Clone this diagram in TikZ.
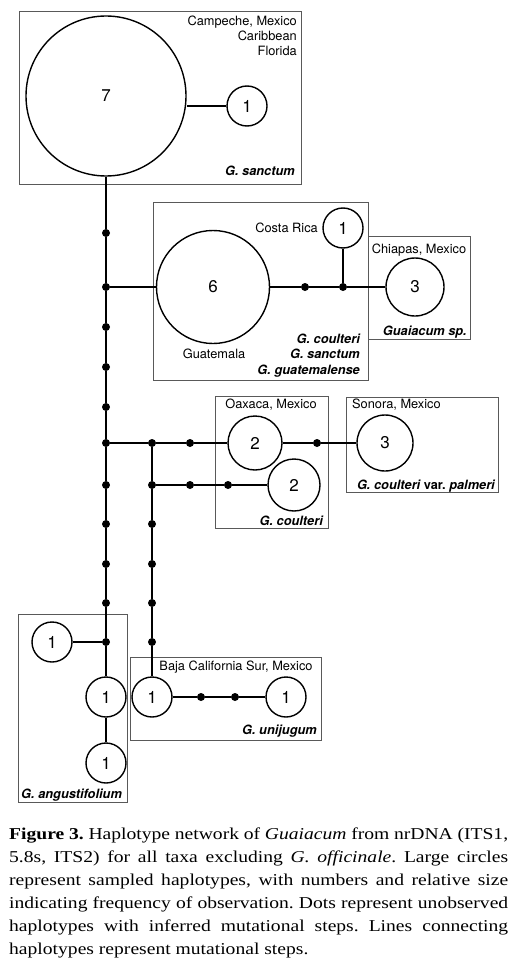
\documentclass[tikz,border=0pt]{standalone}
\usepackage{fontspec}
\setmainfont{Liberation Serif}
\newfontfamily\capfont[FakeStretch=1.18]{Liberation Serif}
\newfontfamily\hv{TeX Gyre Heros}
\frenchspacing
\begin{document}
\begin{tikzpicture}[x=1pt,y=-1pt,
  hap/.style={circle,draw=black,line width=1.4pt,inner sep=0pt,minimum size=#1,font=\hv\fontsize{17}{17}\selectfont},
  mdot/.style={circle,fill=black,inner sep=0pt,minimum size=8pt},
  link/.style={line width=1.7pt,black},
  grp/.style={draw=black!65,line width=0.9pt},
  lbl/.style={font=\hv\fontsize{12.8}{14}\selectfont,inner sep=0pt},
  tax/.style={font=\hv\bfseries\itshape\fontsize{12.8}{14}\selectfont,inner sep=0pt}
]
\useasboundingbox[fill=white] (0,0) rectangle (517,971);

% group boxes
\draw[grp] (19,11) rectangle (301,184);
\draw[grp] (153,202) rectangle (368,380);
\draw[grp] (368,236) rectangle (470,339);
\draw[grp] (215,396) rectangle (328,528);
\draw[grp] (346,397) rectangle (498,492);
\draw[grp] (18,614) rectangle (127,802);
\draw[grp] (130,657) rectangle (321,740);

% haplotypes
\node[hap=160pt] (c7) at (106,96) {7};
\node[hap=40pt] (t1) at (247,106) {1};
\node[hap=113pt] (g6) at (213,287) {6};
\node[hap=40pt] (cr) at (343,228) {1};
\node[hap=58pt] (ch) at (415,287) {3};
\node[hap=54pt] (o1) at (255,443) {2};
\node[hap=52pt] (o2) at (294,485) {2};
\node[hap=56pt] (so) at (385,443) {3};
\node[hap=40pt] (a1) at (52,642) {1};
\node[hap=40pt] (a2) at (106,697) {1};
\node[hap=40pt] (a3) at (106,763) {1};
\node[hap=40pt] (u1) at (152,697) {1};
\node[hap=40pt] (u2) at (286,697) {1};

% median dots, main line
\node[mdot] (m1) at (106,233) {};
\node[mdot] (m2) at (106,287) {};
\node[mdot] (m3) at (106,327) {};
\node[mdot] (m4) at (106,367) {};
\node[mdot] (m5) at (106,407) {};
\node[mdot] (m6) at (106,443) {};
\node[mdot] (m7) at (106,485) {};
\node[mdot] (m8) at (106,524) {};
\node[mdot] (m9) at (106,564) {};
\node[mdot] (m10) at (106,603) {};
\node[mdot] (m11) at (106,642) {};
% second line
\node[mdot] (s1) at (152,443) {};
\node[mdot] (s2) at (152,485) {};
\node[mdot] (s3) at (152,524) {};
\node[mdot] (s4) at (152,564) {};
\node[mdot] (s5) at (152,603) {};
\node[mdot] (s6) at (152,642) {};
% other dots
\node[mdot] (d1) at (190,443) {};
\node[mdot] (d2) at (317,443) {};
\node[mdot] (d3) at (190,485) {};
\node[mdot] (d4) at (228,485) {};
\node[mdot] (d5) at (305,287) {};
\node[mdot] (d6) at (343,287) {};
\node[mdot] (d7) at (201,697) {};
\node[mdot] (d8) at (235,697) {};

% links
\draw[link] (t1.west) -- (c7.east |- t1.west);
\draw[link] (c7) -- (m1) -- (m2) -- (m3) -- (m4) -- (m5) -- (m6) -- (m7) -- (m8) -- (m9) -- (m10) -- (m11) -- (a2) -- (a3);
\draw[link] (m2) -- (g6) -- (d5) -- (d6) -- (ch);
\draw[link] (d6) -- (cr);
\draw[link] (m6) -- (s1) -- (d1) -- (o1) -- (d2) -- (so);
\draw[link] (s1) -- (s2) -- (s3) -- (s4) -- (s5) -- (s6) -- (u1);
\draw[link] (s2) -- (d3) -- (d4) -- (o2);
\draw[link] (m11) -- (a1);
\draw[link] (u1) -- (d7) -- (d8) -- (u2);

% labels
\node[lbl,anchor=base east] (l1) at (297,26) {Campeche, Mexico};
\node[lbl,anchor=base east] (l2) at (297,41) {Caribbean};
\node[lbl,anchor=base east] (l3) at (297,56) {Florida};
\node[tax,anchor=base east] (x1) at (295,175) {G. sanctum};
\node[lbl,anchor=base east] (l4) at (318,232) {Costa Rica};
\node[lbl,anchor=base] (l5) at (419,253) {Chiapas, Mexico};
\node[tax,anchor=base east] (x2) at (467,335) {Guaiacum sp.};
\node[tax,anchor=base east] (x3) at (360,343) {G. coulteri};
\node[tax,anchor=base east] (x4) at (360,358) {G. sanctum};
\node[tax,anchor=base east] (x5) at (360,374) {G. guatemalense};
\node[lbl,anchor=base] (l6) at (214,358) {Guatemala};
\node[lbl,anchor=base] (l7) at (271,408) {Oaxaca, Mexico};
\node[lbl,anchor=base west] (l8) at (352,408) {Sonora, Mexico};
\node[tax,anchor=base east] (x6) at (323,525) {G. coulteri};
\node[tax,anchor=base east] (x7) at (495,489) {G. coulteri \upshape var. \itshape palmeri};
\node[tax,anchor=base west] (x8) at (21,798) {G. angustifolium};
\node[lbl,anchor=base] (l9) at (236,670) {Baja California Sur, Mexico};
\node[tax,anchor=base east] (x9) at (317,734) {G. unijugum};

% caption
\node[anchor=north west,inner sep=0pt,align=left,font=\capfont\fontsize{16.6}{23}\selectfont] (cap) at (9,828) {%
\makebox[499pt][s]{\textbf{Figure 3.} Haplotype network of \textit{Guaiacum} from nrDNA (ITS1,}\\
\makebox[499pt][s]{5.8s, ITS2) for all taxa excluding \textit{G. officinale}. Large circles}\\
\makebox[499pt][s]{represent sampled haplotypes, with numbers and relative size}\\
\makebox[499pt][s]{indicating frequency of observation. Dots represent unobserved}\\
\makebox[499pt][s]{haplotypes with inferred mutational steps. Lines connecting}\\
haplotypes represent mutational steps.};
\end{tikzpicture}
\end{document}
